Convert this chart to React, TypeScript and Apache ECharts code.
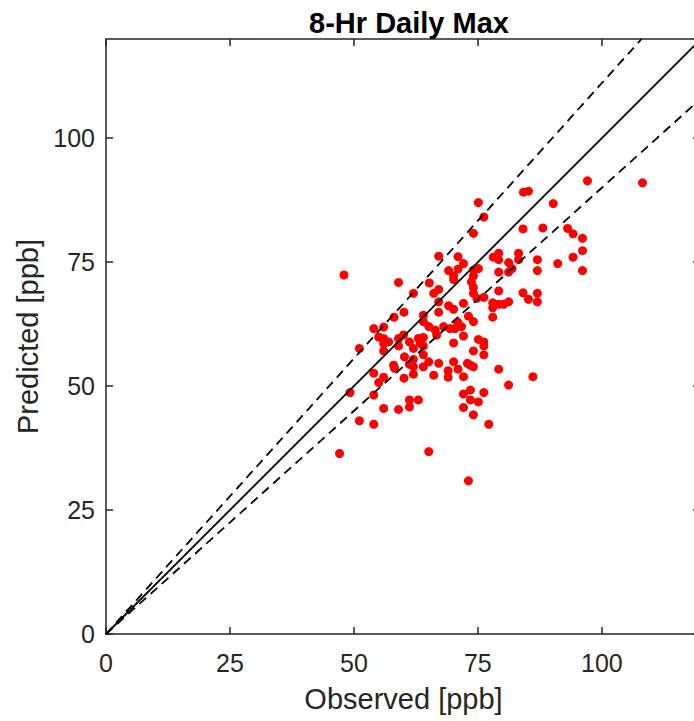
import React, { useEffect, useRef } from "react";
import * as echarts from "echarts";

const chartTitle = "8-Hr Daily Max";
const xAxisName = "Observed [ppb]";
const yAxisName = "Predicted [ppb]";
const axisMin = 0;
const axisMax = 120;
const tickStep = 25;

// 1:1 line and ±10% envelope slopes
const upperSlope = 1 / 0.9;
const lowerSlope = 0.9;

const observed = [
  47.1, 48.0, 49.2, 51.1, 51.1, 54.0, 65.1, 73.1, 54.0, 54.0,
  56.0, 58.1, 60.1, 59.0, 62.0, 64.0, 64.0, 65.1, 65.2, 67.1,
  66.1, 67.1, 67.1, 67.1, 66.4, 66.7, 68.1, 69.1, 70.1, 69.4,
  70.4, 70.9, 71.7, 72.1, 73.1, 74.1, 69.1, 71.0, 70.1, 70.1,
  71.0, 72.1, 75.1, 74.1, 74.1, 73.7, 74.1, 74.1, 74.8, 76.2,
  75.1, 76.2, 74.1, 78.1, 79.2, 79.2, 81.2, 81.9, 81.2, 79.2,
  83.2, 83.2, 87.0, 87.0, 91.1, 94.2, 96.1, 96.1, 94.2, 93.1,
  88.1, 84.1, 90.2, 84.2, 85.2, 97.1, 108.2, 96.1, 79.2, 84.1,
  85.2, 87.0, 87.0, 78.0, 79.2, 80.2, 81.2, 78.0, 78.0, 75.1,
  76.2, 76.2, 74.1, 76.2, 73.5, 74.1, 79.2, 86.1, 81.2, 73.5,
  76.2, 73.5, 75.1, 74.1, 77.2, 72.1, 70.1, 55.0, 56.0, 57.0,
  56.0, 56.0, 59.0, 60.0, 61.2, 59.0, 62.0, 63.0, 64.0, 63.4,
  64.0, 60.2, 62.0, 64.0, 58.0, 58.2, 61.2, 62.0, 64.0, 65.1,
  67.1, 70.1, 72.9, 54.0, 56.0, 55.0, 60.1, 62.0, 66.1, 69.0,
  69.0, 71.0, 72.1, 56.0, 59.0, 61.2, 61.2, 63.0, 72.1, 72.1,
];

const predicted = [
  36.4, 72.4, 48.7, 57.6, 43.0, 42.3, 36.8, 30.9, 48.2, 61.6,
  61.9, 63.9, 64.9, 70.9, 68.7, 64.3, 63.0, 62.0, 70.8, 76.2,
  68.7, 69.5, 67.0, 64.9, 61.3, 60.3, 62.0, 66.2, 65.5, 61.6,
  61.6, 62.9, 62.0, 66.7, 64.1, 63.0, 73.3, 73.6, 72.2, 71.5,
  76.1, 74.7, 73.7, 73.4, 72.2, 71.0, 69.9, 68.7, 67.7, 67.9,
  87.0, 84.1, 80.8, 76.0, 76.8, 75.5, 74.9, 73.7, 73.0, 73.0,
  76.8, 75.5, 75.5, 73.3, 74.7, 76.0, 77.3, 79.8, 80.7, 81.8,
  81.9, 81.7, 86.8, 89.1, 89.3, 91.4, 91.0, 73.3, 69.2, 68.8,
  67.5, 68.7, 67.0, 66.8, 66.5, 66.5, 67.0, 65.8, 63.9, 59.4,
  58.9, 58.1, 57.1, 56.3, 54.2, 53.9, 53.4, 51.9, 50.2, 49.2,
  48.7, 47.2, 46.8, 44.2, 42.3, 60.1, 58.7, 59.9, 59.6, 58.9,
  58.6, 57.1, 59.6, 60.3, 58.9, 58.1, 57.6, 59.6, 59.8, 58.6,
  58.1, 55.9, 55.4, 56.3, 54.2, 53.6, 54.4, 53.9, 53.9, 54.9,
  54.6, 54.9, 54.6, 52.6, 51.8, 50.7, 51.6, 52.4, 52.2, 53.1,
  51.8, 53.4, 51.9, 45.5, 45.3, 47.2, 45.8, 47.2, 48.4, 45.7,
];

const FONT = "'Liberation Sans', Arial, Helvetica, sans-serif";
const AXIS_COLOR = "#262626";

export default function App() {
  const ref = useRef<HTMLDivElement | null>(null);

  useEffect(() => {
    document.body.style.margin = "0";
    if (!ref.current) return;
    const chart = echarts.init(ref.current, null, { renderer: "svg" });

    const points = observed.map((x, i) => [x, predicted[i]]);

    const baseAxis = {
      type: "value" as const,
      min: axisMin,
      max: axisMax,
      interval: tickStep,
      splitLine: { show: false },
      axisLine: { show: true, onZero: false, lineStyle: { color: AXIS_COLOR, width: 1.5 } },
      axisTick: { show: true, inside: true, length: 7, lineStyle: { color: AXIS_COLOR, width: 1.5 } },
    };

    chart.setOption({
      animation: false,
      backgroundColor: "#ffffff",
      title: {
        text: chartTitle,
        left: 404,
        top: 3,
        textAlign: "center",
        textStyle: { fontFamily: FONT, fontSize: 29, fontWeight: "bold", color: "#000" },
      },
      grid: { left: 106, top: 39, width: 595, height: 595 },
      xAxis: [
        {
          ...baseAxis,
          position: "bottom",
          name: xAxisName,
          nameLocation: "middle",
          nameGap: 50,
          nameTextStyle: { fontFamily: FONT, fontSize: 29, color: AXIS_COLOR },
          axisLabel: { fontFamily: FONT, fontSize: 25, color: AXIS_COLOR, margin: 16, showMaxLabel: false },
        },
        {
          ...baseAxis,
          position: "top",
          axisLabel: { show: false },
        },
      ],
      yAxis: [
        {
          ...baseAxis,
          position: "left",
          name: yAxisName,
          nameLocation: "middle",
          nameGap: 62,
          nameTextStyle: { fontFamily: FONT, fontSize: 29, color: AXIS_COLOR },
          axisLabel: { fontFamily: FONT, fontSize: 25, color: AXIS_COLOR, margin: 11, showMaxLabel: false },
        },
        {
          ...baseAxis,
          position: "right",
          axisTick: { show: true, inside: true, length: 8, lineStyle: { color: AXIS_COLOR, width: 1.5 } },
          axisLabel: { show: false },
        },
      ],
      series: [
        {
          type: "scatter",
          data: points,
          symbol: "circle",
          symbolSize: 9,
          itemStyle: { color: "#ff0000", opacity: 1 },
          z: 2,
        },
        {
          type: "line",
          data: [[axisMin, axisMin], [axisMax, axisMax]],
          symbol: "none",
          lineStyle: { color: "#000", width: 1.8, type: "solid" },
          z: 3,
        },
        {
          type: "line",
          data: [[axisMin, axisMin], [axisMax / upperSlope, axisMax]],
          symbol: "none",
          lineStyle: { color: "#000", width: 1.8, type: [9, 6] },
          z: 3,
        },
        {
          type: "line",
          data: [[axisMin, axisMin], [axisMax, axisMax * lowerSlope]],
          symbol: "none",
          lineStyle: { color: "#000", width: 1.8, type: [9, 6] },
          z: 3,
        },
      ],
    });

    return () => chart.dispose();
  }, []);

  return (
    <div style={{ width: 694, height: 721, overflow: "hidden", position: "relative" }}>
      <div ref={ref} style={{ width: 720, height: 721, position: "absolute", left: 0, top: 0 }} />
    </div>
  );
}
